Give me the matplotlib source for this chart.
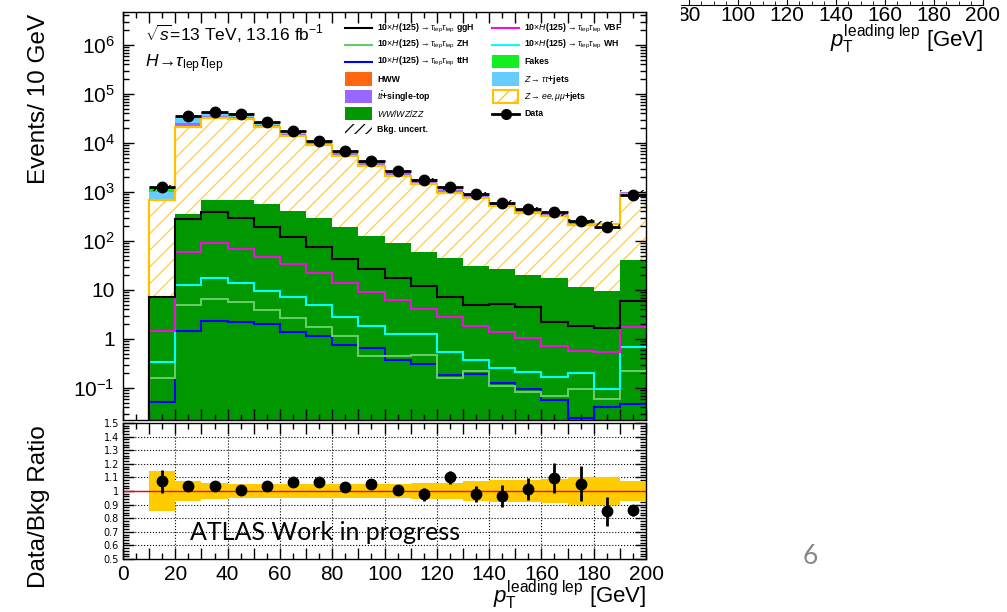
import numpy as np
import matplotlib
matplotlib.use("Agg")
import matplotlib.pyplot as plt
from matplotlib.patches import Rectangle
from matplotlib.lines import Line2D
from matplotlib.ticker import MultipleLocator, LogLocator, FuncFormatter, NullFormatter

plt.rcParams['font.family'] = ['Liberation Sans', 'DejaVu Sans']
plt.rcParams['mathtext.fontset'] = 'custom'
plt.rcParams['mathtext.rm'] = 'Liberation Sans'
plt.rcParams['mathtext.it'] = 'Liberation Sans:italic'
plt.rcParams['mathtext.bf'] = 'Liberation Sans:bold'
plt.rcParams['hatch.linewidth'] = 0.9

# leading lepton pT bins [GeV], first bin (0-10) is empty
bin_edges = np.arange(0, 201, 10)

# background stack, events per bin
diboson = [0, 7.5, 350, 687, 687, 569, 416, 291, 190, 126, 90, 60.5, 44, 31, 26.4, 20.2, 17.3, 11.3, 9.5, 41]
zll = [0, 680, 20850, 31200, 29700, 20900, 13500, 8690, 5240, 3270, 2030, 1380, 896, 712, 492, 347, 306, 201, 210, 889]
ttbar = [0, 10, 4000, 3500, 2800, 2000, 1300, 850, 800, 480, 380, 230, 160, 120, 75, 55, 25, 25, 7, 50]
ztautau = [0, 290, 8500, 6000, 4500, 1600, 800, 400, 300, 170, 120, 80, 50, 40, 25, 15, 9, 7, 3, 20]
fakes = [0, 220, 800, 1000, 700, 400, 300, 150, 140, 70, 50, 50, 20, 17, 12, 8, 4, 3, 1, 10]
hww = [0, 1, 40, 60, 50, 40, 30, 20, 15, 10, 7, 5, 4, 3, 2, 1.5, 1, 1, 0.5, 2]

# signals (x10)
ggh = [0, 7.3, 281, 397, 291, 190, 119, 74, 43, 26.8, 17.3, 12.1, 7.3, 4.9, 5.2, 4.57, 2.26, 1.87, 1.70, 6.05]
vbf = [0, 1.48, 60.5, 90, 68, 48, 33.4, 21.9, 14.1, 9.2, 6.25, 4.1, 2.86, 1.84, 1.41, 1.06, 0.73, 0.57, 0.53, 1.73]
wh = [0, 0.334, 12.6, 17.9, 14.1, 9.5, 7.3, 4.94, 2.77, 1.84, 1.25, 1.25, 0.55, 0.37, 0.252, 0.215, 0.170, 0.199, 0.095, 0.70]
zh = [0, 0.163, 4.94, 6.65, 5.78, 3.9, 2.64, 1.73, 1.17, 0.45, 0.45, 0.46, 0.163, 0.222, 0.111, 0.081, 0.070, 0.094, 0.059, 0.222]
tth = [0, 0.0526, 1.48, 2.37, 2.2, 2.02, 1.41, 1.17, 0.755, 0.645, 0.372, 0.304, 0.184, 0.19, 0.124, 0.095, 0.057, 0.0248, 0.040, 0.0465]

# data
data = [0, 1280, 35500, 43500, 38400, 26400, 17300, 11000, 6870, 4300, 2680, 1760, 1285, 898, 606, 450, 396, 259, 196, 868]

# ratio panel
ratio = [np.nan, 1.07, 1.04, 1.04, 1.008, 1.04, 1.065, 1.065, 1.03, 1.048, 1.008, 0.975, 1.10, 0.978, 0.963, 1.015, 1.095, 1.053, 0.85, 0.858]
ratio_err = [0, 0.082, 0.015, 0.012, 0.012, 0.015, 0.02, 0.02, 0.02, 0.025, 0.025, 0.045, 0.05, 0.06, 0.08, 0.08, 0.11, 0.13, 0.105, 0.04]
bkg_unc = [0, 0.15, 0.075, 0.06, 0.052, 0.05, 0.05, 0.05, 0.05, 0.05, 0.055, 0.058, 0.06, 0.07, 0.08, 0.08, 0.09, 0.105, 0.105, 0.072]

W, H = 1007, 612
fig = plt.figure(figsize=(W / 100, H / 100), dpi=100)


def fx(x):
    return x / W


def fy(y):
    return 1 - y / H


def pos(v):
    v = np.asarray(v, dtype=float)
    return np.where(v > 0, v, 1e-6)


centers = 0.5 * (bin_edges[:-1] + bin_edges[1:])

# ---------------- main panel ----------------
ax = fig.add_axes([fx(123), fy(420), 523 / W, 408 / H])
ax.set_yscale('log')

c0 = np.asarray(diboson, float)
c1 = c0 + np.asarray(zll)
c2 = c1 + np.asarray(ttbar)
c3 = c2 + np.asarray(ztautau)
c4 = c3 + np.asarray(fakes)
c5 = c4 + np.asarray(hww)

ax.stairs(pos(c1), bin_edges, baseline=pos(c0), fill=True, facecolor='none',
          edgecolor='#FFCC44', hatch='//', linewidth=0, zorder=1)
ax.stairs(pos(c0), bin_edges, baseline=1e-6, fill=True, color='#009700', zorder=1.1)
ax.stairs(pos(c2), bin_edges, baseline=pos(c1), fill=True, color='#9966FF', zorder=1.1)
ax.stairs(pos(c3), bin_edges, baseline=pos(c2), fill=True, color='#66CCFF', zorder=1.1)
ax.stairs(pos(c4), bin_edges, baseline=pos(c3), fill=True, color='#11EE22', zorder=1.1)
ax.stairs(pos(c5), bin_edges, baseline=pos(c4), fill=True, color='#FF6611', zorder=1.1)
ax.stairs(pos(c1), bin_edges, baseline=None, color='#FFC200', linewidth=1.6, zorder=1.5)

# background uncertainty hatch
unc = np.asarray(bkg_unc)
ax.stairs(pos(c5 * (1 + unc)), bin_edges, baseline=pos(c5 * (1 - unc)), fill=True,
          facecolor='none', edgecolor='black', hatch='///', linewidth=0, zorder=1.7)

# signal lines
for vals, col in [(tth, '#0000FF'), (zh, '#66CC66'), (wh, '#00FFFF'), (vbf, '#EE11DD'), (ggh, 'black')]:
    ax.stairs(pos(vals), bin_edges, baseline=None, color=col, linewidth=1.5, zorder=3)

# data points
ax.errorbar(centers[1:], data[1:], xerr=5, fmt='o', color='black', ms=7.5,
            elinewidth=2, capsize=0, zorder=5)

ax.set_xlim(0, 200)
ax.set_ylim(0.0222, 4.71e6)
ax.xaxis.set_major_locator(MultipleLocator(10))
ax.xaxis.set_minor_locator(MultipleLocator(5))
ax.yaxis.set_major_locator(LogLocator(base=10, numticks=20))
ax.yaxis.set_minor_locator(LogLocator(base=10, subs=np.arange(2, 10), numticks=20))
ax.yaxis.set_minor_formatter(NullFormatter())


def log_label(v, p):
    if abs(v - 1) < 1e-9:
        return '1'
    if abs(v - 10) < 1e-9:
        return '10'
    return r'$10^{%d}$' % round(np.log10(v))


ax.yaxis.set_major_formatter(FuncFormatter(log_label))
ax.tick_params(which='both', direction='in', top=True, right=True, labelbottom=False)
ax.tick_params(which='major', length=8, width=1, labelsize=15, pad=6)
ax.tick_params(which='minor', length=4, width=1)
for s in ax.spines.values():
    s.set_linewidth(1.0)

# ---------------- ratio panel ----------------
axr = fig.add_axes([fx(123), fy(559), 523 / W, 136 / H])
axr.set_axisbelow(True)
for gx in range(20, 200, 20):
    axr.axvline(gx, color='black', linestyle=':', linewidth=0.8, zorder=0.5)
for gy in np.arange(0.6, 1.45, 0.1):
    axr.axhline(gy, color='black', linestyle=':', linewidth=0.8, zorder=0.5)

axr.stairs(1 + unc, bin_edges, baseline=1 - unc, fill=True, color='#FFCC00', zorder=1)
axr.axhline(1.0, color='#FF0000', linewidth=1.0, zorder=2)
axr.errorbar(centers, ratio, yerr=ratio_err, fmt='o', color='black', ms=7.5,
             elinewidth=2, capsize=0, zorder=5)

axr.set_xlim(0, 200)
axr.set_ylim(0.5, 1.5)
axr.xaxis.set_major_locator(MultipleLocator(10))
axr.xaxis.set_minor_locator(MultipleLocator(5))
axr.xaxis.set_major_formatter(FuncFormatter(lambda v, p: '%d' % v if round(v) % 20 == 0 else ''))
axr.yaxis.set_major_locator(MultipleLocator(0.1))
axr.yaxis.set_minor_locator(MultipleLocator(0.02))
axr.yaxis.set_major_formatter(FuncFormatter(lambda v, p: '%g' % round(v, 2)))
axr.tick_params(which='both', direction='in', top=True, right=True)
axr.tick_params(axis='x', which='major', length=8, width=1, labelsize=15, pad=4)
axr.tick_params(axis='y', which='major', length=8, width=1, labelsize=7, pad=3)
axr.tick_params(which='minor', length=4, width=1)
for lab in axr.get_yticklabels():
    lab.set_family(['DejaVu Sans'])
for s in axr.spines.values():
    s.set_linewidth(1.0)

# ---------------- labels ----------------
fig.text(fx(39), fy(99), 'Events/ 10 GeV', rotation=90, ha='center', va='center', fontsize=17.5)
fig.text(fx(39), fy(507), 'Data/Bkg Ratio', rotation=90, ha='center', va='center', fontsize=17.5)
fig.text(fx(646), fy(603), r'$p_{\rm T}^{\rm leading\ lep}$ [GeV]', ha='right', va='baseline', fontsize=16)
fig.text(fx(145), fy(41), r'$\sqrt{s}$=13 TeV, 13.16 fb$^{-1}$', va='baseline', fontsize=12.5)
fig.text(fx(145), fy(67), r'$H\!\rightarrow\!\tau_{\rm lep}\tau_{\rm lep}$', va='baseline', fontsize=12.5)
fig.text(fx(190), fy(540), 'ATLAS Work in progress', va='baseline', fontsize=18, family=['Lato', 'DejaVu Sans'])
fig.text(fx(810), fy(557), '6', ha='center', va='center', fontsize=19, color='#888888',
         family=['Lato', 'DejaVu Sans'])

# ---------------- legend ----------------
sig_lab = r'10$\times$$H$(125)$\rightarrow\tau_{\rm lep}\tau_{\rm lep}$ '
legend_rows = [28, 44.5, 61.5, 79, 96.5, 113.5, 129]
legend_entries = [
    # (column x, row, kind, style, label)
    (345, 0, 'line', 'black', sig_lab + 'ggH'),
    (345, 1, 'line', '#66CC66', sig_lab + 'ZH'),
    (345, 2, 'line', '#0000FF', sig_lab + 'ttH'),
    (345, 3, 'box', '#FF6611', 'HWW'),
    (345, 4, 'box', '#9966FF', r'$t\bar{t}$+single-top'),
    (345, 5, 'box', '#009700', r'$WW/WZ/ZZ$'),
    (345, 6, 'unc', 'black', 'Bkg. uncert.'),
    (492, 0, 'line', '#EE11DD', sig_lab + 'VBF'),
    (492, 1, 'line', '#00FFFF', sig_lab + 'WH'),
    (492, 2, 'box', '#11EE22', 'Fakes'),
    (492, 3, 'box', '#66CCFF', r'$Z\rightarrow\tau\tau$+jets'),
    (492, 4, 'zll', '#FFC200', r'$Z\rightarrow ee,\mu\mu$+jets'),
    (492, 5, 'data', 'black', 'Data'),
]
for x0, row, kind, col, lab in legend_entries:
    y0 = legend_rows[row]
    if kind == 'line':
        fig.add_artist(Line2D([fx(x0), fx(x0 + 27)], [fy(y0)] * 2, color=col, lw=1.5,
                              transform=fig.transFigure))
    elif kind == 'box':
        fig.add_artist(Rectangle((fx(x0), fy(y0 + 6.5)), 27 / W, 13 / H, facecolor=col,
                                 edgecolor='none', transform=fig.transFigure))
    elif kind == 'zll':
        fig.add_artist(Rectangle((fx(x0 + 1), fy(y0 + 6)), 25 / W, 12 / H, facecolor='none',
                                 edgecolor=col, hatch='//', lw=1.5, transform=fig.transFigure))
    elif kind == 'unc':
        fig.add_artist(Rectangle((fx(x0), fy(y0 + 5)), 27 / W, 10 / H, facecolor='none',
                                 edgecolor=col, hatch='///', lw=0, transform=fig.transFigure))
    elif kind == 'data':
        fig.add_artist(Line2D([fx(x0), fx(x0 + 27)], [fy(y0)] * 2, color=col, lw=2,
                              transform=fig.transFigure))
        fig.add_artist(Line2D([fx(x0 + 13.5)], [fy(y0)], color=col, marker='o', ms=7,
                              transform=fig.transFigure))
    fig.text(fx(x0 + 32), fy(y0), lab, fontsize=6.3, fontweight='bold', va='center')

# ---------------- fragment of a neighbouring plot (top right) ----------------
axf = fig.add_axes([fx(493), fy(5), (983 - 493) / W, 60 / H], zorder=-1)
axf.set_facecolor('none')
axf.set_xlim(0, 200)
axf.set_yticks([])
axf.spines['top'].set_visible(False)
axf.spines['left'].set_visible(False)
axf.xaxis.set_major_locator(MultipleLocator(20))
axf.xaxis.set_minor_locator(MultipleLocator(5))
axf.tick_params(which='both', direction='in')
axf.tick_params(which='major', length=6, labelsize=15, pad=1)
axf.tick_params(which='minor', length=3)
fig.text(fx(983), fy(47), r'$p_{\rm T}^{\rm leading\ lep}$ [GeV]', ha='right', va='baseline', fontsize=16)
# the neighbouring plot is cut off by the main picture
fig.add_artist(Rectangle((0, fy(30)), fx(681), 30 / H, facecolor='white', edgecolor='none',
                         transform=fig.transFigure, zorder=-0.5))
fig.add_artist(Rectangle((0, fy(40)), fx(670), 40 / H, facecolor='white', edgecolor='none',
                         transform=fig.transFigure, zorder=-0.5))

fig.savefig('out.png', dpi=100)
